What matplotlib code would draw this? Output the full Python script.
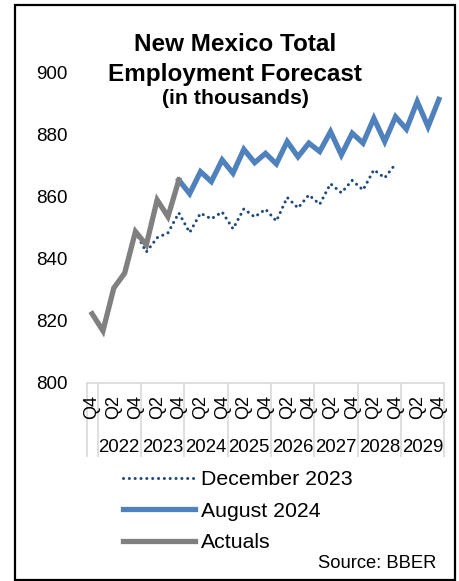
import numpy as np
import matplotlib
matplotlib.use("Agg")
import matplotlib.pyplot as plt
from matplotlib.patches import Rectangle

plt.rcParams["font.family"] = ["Liberation Sans", "DejaVu Sans"]

# -------------------------
# Data (thousands of jobs, quarterly 2021 Q4 .. 2029 Q4)
# -------------------------

q_labels = ["Q4", "Q2", "Q4", "Q2", "Q4", "Q2", "Q4", "Q2", "Q4",
            "Q2", "Q4", "Q2", "Q4", "Q2", "Q4", "Q2", "Q4"]
years = ["2022", "2023", "2024", "2025", "2026", "2027", "2028", "2029"]

# actuals: 2021 Q4 .. 2023 Q4
actuals = [822.3, 816.8, 830.6, 835.4, 848.8, 844.5, 859.0, 853.6, 865.4]

# December 2023 forecast: 2022 Q4 .. 2028 Q4
dec2023 = [848.6, 842.2, 846.8, 848.4, 854.8, 848.5, 854.7, 852.9, 855.1,
           849.7, 856.1, 853.5, 856.0, 852.2, 859.8, 856.4, 860.6, 857.6,
           864.2, 861.3, 865.3, 862.2, 868.7, 866.1, 870.6]

# August 2024 forecast: 2023 Q4 .. 2029 Q4
aug2024 = [865.4, 861.0, 868.1, 864.9, 871.9, 867.6, 875.3, 871.0, 874.0,
           870.6, 877.8, 872.9, 877.3, 874.6, 881.0, 873.5, 880.5, 877.3,
           885.3, 877.8, 885.8, 881.8, 890.7, 882.6, 891.4]

act_x = np.arange(0, len(actuals))
dec_x = np.arange(4, 4 + len(dec2023))
aug_x = np.arange(8, 8 + len(aug2024))
n_q = 33

# -------------------------
# Figure
# -------------------------

fig = plt.figure(figsize=(4.59, 5.81), dpi=100)
ax = fig.add_axes([0.1889, 0.3408, 0.7791, 0.5341])

ax.plot(dec_x, dec2023, color="#1f497d", lw=2.2,
        linestyle=(0, (0.01, 1.9)), dash_capstyle="round",
        label="December 2023")
ax.plot(aug_x, aug2024, color="#4f81bd", lw=3.8,
        solid_joinstyle="miter", label="August 2024")
ax.plot(act_x, actuals, color="#808080", lw=3.8,
        solid_joinstyle="miter", label="Actuals")

ax.set_xlim(-0.5, n_q - 0.5)
ax.set_ylim(800, 900)
ax.set_yticks(np.arange(800, 901, 20))
ax.tick_params(axis="y", length=0, pad=14, labelsize=13.5)

ax.set_xticks(np.arange(0, n_q, 2))
ax.set_xticklabels(q_labels, rotation=90)
ax.tick_params(axis="x", length=0, pad=9, labelsize=13)

for side in ["left", "top", "right"]:
    ax.spines[side].set_visible(False)
ax.spines["bottom"].set_color("#d9d9d9")
ax.spines["bottom"].set_linewidth(1.2)

# year groups under the quarter labels
sec = ax.secondary_xaxis("bottom")
bounds = [-0.5] + list(np.arange(0.5, n_q, 4))
sec.set_xticks(bounds)
sec.set_xticklabels([])
sec.set_xticks(np.arange(2.5, n_q, 4), minor=True)
sec.set_xticklabels(years, minor=True)
sec.tick_params(axis="x", which="major", length=53, width=1.2,
                color="#d9d9d9")
sec.tick_params(axis="x", which="minor", length=0, pad=40, labelsize=13.4)
sec.spines["bottom"].set_visible(False)

# -------------------------
# Titles, legend, source
# -------------------------

fig.text(0.512, 0.912, "New Mexico Total", ha="center", va="baseline",
         fontsize=17.5, fontweight="bold")
fig.text(0.512, 0.861, "Employment Forecast", ha="center", va="baseline",
         fontsize=17.5, fontweight="bold")
fig.text(0.512, 0.821, "(in thousands)", ha="center", va="baseline",
         fontsize=15.3, fontweight="bold")

ax.legend(loc="upper left", bbox_to_anchor=(123 / 459, 1 - 470 / 581),
          bbox_transform=fig.transFigure, frameon=False, fontsize=15.3,
          handlelength=3.4, handletextpad=0.25, labelspacing=0.6,
          borderpad=0, borderaxespad=0)

fig.text(436 / 459, 1 - 564 / 581, "Source: BBER", ha="right",
         va="center", fontsize=13.2)

fig.patches.append(Rectangle((15 / 459, 0.001), 440 / 459, 0.991,
                             transform=fig.transFigure, fill=False,
                             edgecolor="black", lw=1.6))

fig.savefig("out.png", dpi=100)
